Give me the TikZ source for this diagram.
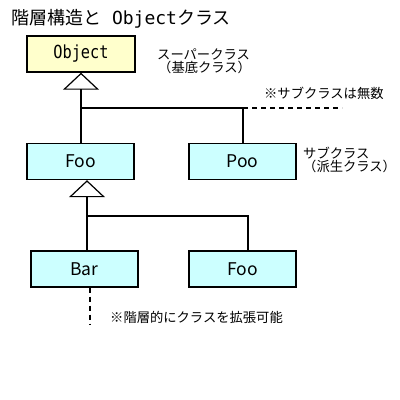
\documentclass[tikz,border=0pt]{standalone}
\usepackage{fontspec}
\setmainfont{Noto Sans CJK JP}
\newfontfamily\monofnt{DejaVu Sans Mono}
\newfontfamily\monocond[FakeStretch=0.85]{DejaVu Sans Mono}
\usetikzlibrary{arrows.meta}
\definecolor{ylw}{HTML}{FFFFCC}
\definecolor{cyn}{HTML}{CCFFFF}
\tikzset{
  classbox/.style={draw=black, line width=1.4pt, minimum width=107pt, minimum height=36pt, inner sep=0pt, font=\fontsize{17.5}{17.5}\selectfont},
  conn/.style={line width=1.4pt},
  inh/.style={line width=1.4pt, -{Triangle[open, width=36pt, length=17pt, line width=1.2pt]}},
  dashline/.style={line width=1.4pt, dash pattern=on 5pt off 4pt},
  note/.style={font=\fontsize{13.3}{13.5}\selectfont, inner sep=0pt, align=left}
}
\begin{document}
\begin{tikzpicture}[x=1pt, y=-1pt]
\useasboundingbox (0,0) rectangle (400,400);
\fill[white] (0,0) rectangle (400,400);
\node[anchor=west, inner sep=0pt, font=\fontsize{18}{18}\selectfont] (title) at (11,19) {階層構造と{\monofnt\ Object}クラス};
\node[classbox, fill=ylw, minimum width=108pt, font=\monocond\fontsize{18}{18}\selectfont] (obj) at (81,54) {Object};
\node[classbox, fill=cyn] (foo) at (80.5,161.5) {Foo};
\node[classbox, fill=cyn] (poo) at (242.5,161.5) {Poo};
\node[classbox, fill=cyn] (bar) at (84.5,269) {Bar};
\node[classbox, fill=cyn] (foo2) at (242.5,269) {Foo};
\coordinate (j1) at (81,108);
\coordinate (j2) at (243,108);
\coordinate (d1) at (342,108);
\coordinate (j3) at (87,216);
\coordinate (j4) at (248,216);
\coordinate (d2) at (90,324);
\draw[inh] (j1) -- (obj.south);
\draw[conn] (j1) -- (foo.north -| j1);
\draw[conn] (j1) -- (j2) -- (poo.north -| j2);
\draw[dashline] (j2) -- (d1);
\draw[inh] (j3) -- (foo.south -| j3);
\draw[conn] (j3) -- (bar.north -| j3);
\draw[conn] (j3) -- (j4) -- (foo2.north -| j4);
\draw[dashline] (bar.south -| d2) -- (d2);
\node[note, anchor=west] (sup) at (157,61) {スーパークラス\\\hspace{1pt}（基底クラス）};
\node[note, anchor=west] (many) at (264,93) {※サブクラスは無数};
\node[note, anchor=west] (sub) at (303,160) {サブクラス\\（派生クラス）};
\node[note, anchor=west] (ext) at (110,317) {※階層的にクラスを拡張可能};
\end{tikzpicture}
\end{document}
